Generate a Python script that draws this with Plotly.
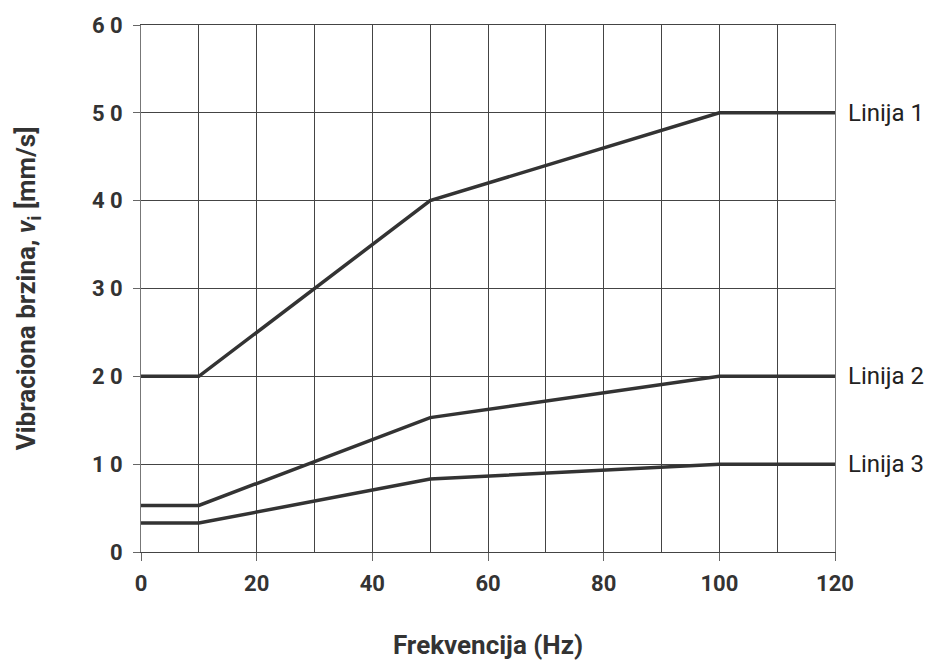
import plotly.graph_objects as go

freq = [0, 10, 50, 100, 120]
linija1 = [20, 20, 40, 50, 50]
linija2 = [5.3, 5.3, 15.3, 20, 20]
linija3 = [3.3, 3.3, 8.3, 10, 10]
series_names = ["Linija 1", "Linija 2", "Linija 3"]

y_tickvals = [0, 10, 20, 30, 40, 50, 60]
y_ticktext = ["0", "1 0", "2 0", "3 0", "4 0", "5 0", "6 0"]
x_tickvals = [0, 20, 40, 60, 80, 100, 120]
x_ticktext = ["0", "20", "40", "60", "80", "100", "120"]

FONT = "Roboto, Liberation Sans, Arial, sans-serif"
LINE_COLOR = "#333333"

fig = go.Figure()
for name, ys in zip(series_names, [linija1, linija2, linija3]):
    fig.add_trace(go.Scatter(x=freq, y=ys, mode="lines", name=name,
                             line=dict(color=LINE_COLOR, width=3.5),
                             showlegend=False, hoverinfo="skip"))
    fig.add_annotation(x=freq[-1], y=ys[-1], text=name, xref="x", yref="y",
                       xanchor="left", yanchor="middle", xshift=11, showarrow=False,
                       font=dict(family=FONT, size=24, color="#222222"))

fig.update_xaxes(range=[0, 120], tickvals=x_tickvals, ticktext=x_ticktext,
                 showgrid=True, gridcolor="#444444", gridwidth=1,
                 minor=dict(dtick=10, tick0=0, showgrid=True, gridcolor="#444444", gridwidth=1, ticklen=0),
                 ticks="outside", ticklen=8, tickcolor="#666666", tickwidth=1,
                 ticklabelstandoff=4,
                 showline=True, linecolor="#444444", linewidth=1, mirror=True,
                 zeroline=False, automargin=False,
                 tickfont=dict(family=FONT, size=22, color="#333333", weight="bold"),
                 title=dict(text="Frekvencija (Hz)", standoff=42,
                            font=dict(family=FONT, size=26, color="#333333", weight="bold")))
fig.update_yaxes(range=[0, 60], tickvals=y_tickvals, ticktext=y_ticktext,
                 showgrid=True, gridcolor="#444444", gridwidth=1,
                 ticks="outside", ticklen=7, tickcolor="#666666", tickwidth=1,
                 ticklabelstandoff=6,
                 showline=True, linecolor="#777777", linewidth=1, mirror=True,
                 zeroline=False, automargin=False,
                 tickfont=dict(family=FONT, size=22, color="#333333", weight="bold"),
                 title=dict(text="Vibraciona brzina, <i>ν</i><sub>i</sub> [mm/s]", standoff=48,
                            font=dict(family=FONT, size=26, color="#333333", weight="bold")))

fig.update_layout(width=930, height=660, plot_bgcolor="white", paper_bgcolor="white",
                  margin=dict(l=141, r=95, t=25, b=108))

fig.write_html("out.html", config={"displayModeBar": False},
               post_script="document.body.style.margin='0';document.body.style.overflow='hidden';")
